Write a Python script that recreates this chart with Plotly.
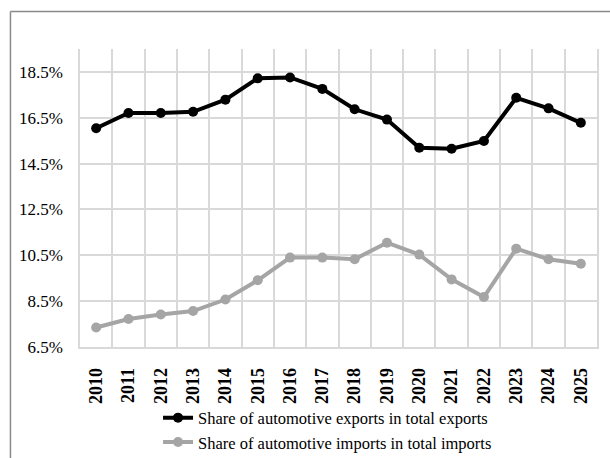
import plotly.graph_objects as go

years = [str(y) for y in range(2010, 2026)]
export_share = [16.04, 16.71, 16.71, 16.76, 17.29, 18.22, 18.26, 17.76,
                16.87, 16.42, 15.19, 15.15, 15.49, 17.37, 16.91, 16.28]
import_share = [7.35, 7.72, 7.92, 8.07, 8.57, 9.41, 10.40, 10.40,
                10.33, 11.05, 10.53, 9.45, 8.68, 10.79, 10.33, 10.13]
y_ticks = [6.5, 8.5, 10.5, 12.5, 14.5, 16.5, 18.5]
y_tick_text = [f"{v:.1f}%" for v in y_ticks]

W, H = 610, 458
L, R, T, B = 80, 13.3, 49.3, 111.3
pw, ph = W - L - R, H - T - B

def px(x):
    return (x - L) / pw

def py(y):
    return (H - B - y) / ph

serif = "Liberation Serif, Times New Roman, serif"
grid = "#d9d9d9"

fig = go.Figure()
fig.add_trace(go.Scatter(
    x=years, y=export_share, mode="lines+markers",
    name="Share of automotive exports in total exports",
    line=dict(color="#000000", width=4),
    marker=dict(color="#000000", size=10),
))
fig.add_trace(go.Scatter(
    x=years, y=import_share, mode="lines+markers",
    name="Share of automotive imports in total imports",
    line=dict(color="#a5a5a5", width=4),
    marker=dict(color="#a5a5a5", size=10),
))

# outer chart frame (left and top edges)
fig.add_shape(type="line", xref="paper", yref="paper",
              x0=px(10.5), x1=px(10.5), y0=py(12), y1=py(460),
              line=dict(color="#8a8a8a", width=1.5))
fig.add_shape(type="line", xref="paper", yref="paper",
              x0=px(10.5), x1=px(612), y0=py(12), y1=py(12),
              line=dict(color="#8a8a8a", width=1.5))

fig.update_layout(
    width=W, height=H,
    margin=dict(l=L, r=R, t=T, b=B, autoexpand=False),
    paper_bgcolor="white", plot_bgcolor="white",
    font=dict(family=serif, color="#000000"),
    showlegend=True,
    legend=dict(
        x=px(158), y=py(400), xanchor="left", yanchor="top",
        font=dict(family=serif, size=16.5, color="#000000"),
        bgcolor="rgba(0,0,0,0)", itemwidth=30, tracegroupgap=0,
    ),
)
fig.update_xaxes(
    type="category", tickson="boundaries", automargin=False,
    showgrid=True, gridcolor=grid, gridwidth=1.5,
    showline=True, linecolor=grid, linewidth=1.5,
    ticks="", ticklabelstandoff=12,
    tickangle=-90, range=[-0.5, 15.5],
    tickfont=dict(family=serif, size=18, color="#000000", weight="bold"),
)
fig.update_yaxes(
    range=[6.5, 19.5], tickvals=y_ticks, ticktext=y_tick_text, automargin=False,
    showgrid=True, gridcolor=grid, gridwidth=1.5, zeroline=False,
    showline=True, mirror=True, linecolor=grid, linewidth=1.5,
    ticks="outside", ticklen=12, tickcolor="rgba(0,0,0,0)",
    tickfont=dict(family=serif, size=17, color="#000000"),
)

fig.write_html("out.html")
